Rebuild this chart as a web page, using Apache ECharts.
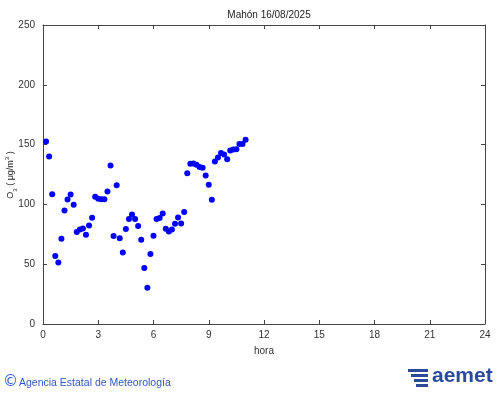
<!DOCTYPE html>
<html>
<head>
<meta charset="utf-8">
<script src="https://cdn.jsdelivr.net/npm/echarts@6/dist/echarts.min.js"></script>
<style>
html,body{margin:0;padding:0;background:#fff;}
#chart{width:500px;height:395px;}
</style>
</head>
<body>
<div id="chart"></div>
<script>
const titleText = 'Mahón 16/08/2025';
const xTicks = [0, 3, 6, 9, 12, 15, 18, 21, 24];
const yTicks = [0, 50, 100, 150, 200, 250];
const minutes = [10,20,30,40,50,60,70,80,90,100,110,120,130,140,150,160,170,180,190,200,210,220,230,240,250,260,270,280,290,300,310,320,330,340,350,360,370,380,390,400,410,420,430,440,450,460,470,480,490,500,510,520,530,540,550,560,570,580,590,600,610,620,630,640,650,660];
const o3 = [152.5,140,108.4,56.8,51.5,71.3,94.9,104.1,108.2,99.7,76.9,79.0,79.9,74.6,82.4,88.8,106.3,104.7,104.4,104.4,110.8,132.5,73.5,116.1,71.8,59.8,79.4,87.7,91.6,87.7,81.9,70.4,46.8,30.3,58.5,73.8,87.7,88.6,92.4,79.6,77.4,79.0,83.8,89.1,84.0,93.6,126.1,133.9,134.2,133.1,131.2,130.6,124.1,116.4,103.8,135.8,139.2,142.9,141.7,137.8,145.0,145.9,146.2,150.6,150.4,154.0];

const points = minutes.map((m, i) => [m / 60, o3[i]]);
const axisColor = '#444';
const font = 'Liberation Sans, Arial, sans-serif';
const labelStyle = {color: '#333', fontSize: 10, fontFamily: font};

const chart = echarts.init(document.getElementById('chart'), null, {renderer: 'canvas'});
chart.setOption({
  backgroundColor: '#fff',
  animation: false,
  title: {
    text: titleText, left: 264, top: 5, textAlign: 'center',
    textStyle: {fontSize: 10, fontWeight: 'normal', color: '#222', fontFamily: font}
  },
  grid: {left: 43, right: 15, top: 25, bottom: 71, containLabel: false, outerBoundsMode: 'none'},
  xAxis: [{
    type: 'value', min: 0, max: 24, interval: 3,
    name: 'hora', nameLocation: 'middle', nameGap: 22,
    nameTextStyle: labelStyle,
    axisLine: {show: true, onZero: false, lineStyle: {color: axisColor, width: 1}},
    axisTick: {show: true, inside: true, length: 4, lineStyle: {color: axisColor}},
    axisLabel: Object.assign({margin: 6}, labelStyle),
    splitLine: {show: false}
  }, {
    type: 'value', min: 0, max: 24, interval: 3, position: 'top',
    axisLine: {show: true, onZero: false, lineStyle: {color: axisColor, width: 1}},
    axisTick: {show: true, inside: true, length: 4, lineStyle: {color: axisColor}},
    axisLabel: {show: false}, splitLine: {show: false}
  }],
  yAxis: [{
    type: 'value', min: 0, max: 250, interval: 50,
    axisLine: {show: true, onZero: false, lineStyle: {color: axisColor, width: 1}},
    axisTick: {show: true, inside: true, length: 4, lineStyle: {color: axisColor}},
    axisLabel: Object.assign({margin: 8}, labelStyle),
    splitLine: {show: false}
  }, {
    type: 'value', min: 0, max: 250, interval: 50, position: 'right',
    axisLine: {show: true, onZero: false, lineStyle: {color: axisColor, width: 1}},
    axisTick: {show: true, inside: true, length: 4, lineStyle: {color: axisColor}},
    axisLabel: {show: false}, splitLine: {show: false}
  }],
  series: [{
    type: 'scatter', xAxisIndex: 0, yAxisIndex: 0,
    data: points, symbol: 'circle', symbolSize: 6,
    itemStyle: {color: '#0000ff', opacity: 1}
  }],
  graphic: [
    {type: 'text', x: 11, y: 175, rotation: Math.PI / 2, z: 10,
     style: {
       text: '{a|O}{sub|3}{a| ( μg/m}{sup|3}{a| )}',
       align: 'center', verticalAlign: 'middle',
       fill: '#222', fontSize: 9, fontFamily: font,
       rich: {
         a: {fontSize: 9, fill: '#222', lineHeight: 14, verticalAlign: 'middle', fontFamily: font},
         sub: {fontSize: 6, fill: '#222', lineHeight: 14, verticalAlign: 'bottom', fontFamily: font},
         sup: {fontSize: 6, fill: '#222', lineHeight: 14, verticalAlign: 'top', fontFamily: font}
       }
     }},
    {type: 'text', left: 3, top: 375, style: {text: '©', fontSize: 15, fill: '#2f56c8', fontFamily: 'DejaVu Sans, sans-serif'}},
    {type: 'text', left: 19, top: 378, style: {text: 'Agencia Estatal de Meteorología', fontSize: 10.5, fill: '#2f56c8', fontFamily: font}},
    {type: 'group', left: 408, top: 369, children: [
      {type: 'rect', shape: {x: 0, y: 0, width: 20, height: 3}, style: {fill: '#2b4a9a'}},
      {type: 'rect', shape: {x: 3, y: 5, width: 17, height: 3}, style: {fill: '#2b4a9a'}},
      {type: 'rect', shape: {x: 6, y: 10, width: 14, height: 3}, style: {fill: '#2b4a9a'}},
      {type: 'rect', shape: {x: 8, y: 15, width: 12, height: 3}, style: {fill: '#2b4a9a'}}
    ]},
    {type: 'text', left: 432, top: 366, style: {text: 'aemet', fontSize: 21, fontWeight: 'bold', fill: '#2b4a9a', fontFamily: font}}
  ]
});
</script>
</body>
</html>
